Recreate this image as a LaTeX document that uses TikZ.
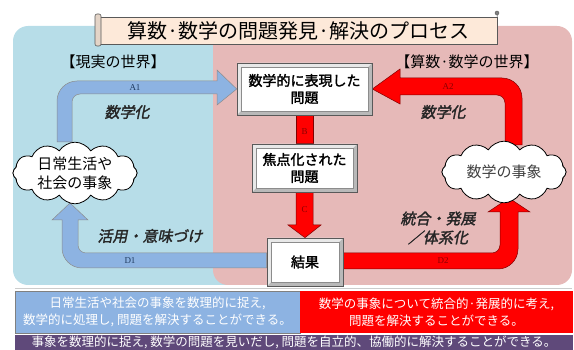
\documentclass[tikz,border=0pt]{standalone}
\usepackage{fontspec}
\setmainfont{Noto Sans CJK JP}
\newfontfamily\jp{Noto Sans CJK JP}
\newfontfamily\jpb{Noto Sans CJK JP}[FakeBold=2]
\newfontfamily\jpbi{Noto Sans CJK JP}[FakeBold=2,FakeSlant=0.2]
\newfontfamily\labfont{Liberation Serif}
\usetikzlibrary{shapes.symbols}
\definecolor{bgblue}{HTML}{B7DDE8}
\definecolor{bgpink}{HTML}{E6B9B8}
\definecolor{arrblue}{HTML}{8DB3E2}
\definecolor{arrred}{HTML}{FF0000}
\definecolor{peach}{HTML}{FDE9D9}
\definecolor{purp}{HTML}{5F497A}
\definecolor{labblue}{HTML}{1F3A5F}
\definecolor{labred}{HTML}{8B0000}
\tikzset{
  bevelbox/.style={draw=black!65, fill=gray!55, line width=0.6pt, inner sep=0pt, align=center,
    font=\jpb\fontsize{14}{17}\selectfont,
    path picture={
      \fill[gray!18] (path picture bounding box.north west) -- (path picture bounding box.north east)
        -- ([xshift=-4pt,yshift=-4pt]path picture bounding box.north east)
        -- ([xshift=4pt,yshift=-4pt]path picture bounding box.north west)
        -- ([xshift=4pt,yshift=4pt]path picture bounding box.south west)
        -- (path picture bounding box.south west) -- cycle;
      \fill[white, draw=black!45, line width=0.4pt] ([xshift=4pt,yshift=-4pt]path picture bounding box.north west)
        rectangle ([xshift=-4pt,yshift=4pt]path picture bounding box.south east);
    }},
  cloudnode/.style={cloud, draw=black, line width=0.8pt, fill=white, cloud puffs=12, cloud puff arc=115,
    aspect=2.2, inner sep=0pt, align=center, font=\jp\fontsize{15}{19}\selectfont},
  blockblue/.style={fill=arrblue, draw=black!45, line width=0.5pt},
  blockred/.style={fill=arrred, draw=red!50!black, line width=0.5pt},
  arrlab/.style={font=\labfont\fontsize{9}{10}\selectfont, inner sep=0pt},
  acttext/.style={font=\jpbi\fontsize{15}{19}\selectfont, inner sep=0pt, align=center, text=black!85},
  worldlab/.style={font=\jp\fontsize{15}{17}\selectfont, inner sep=0pt},
  bottombox/.style={inner sep=0pt, align=center, text=white, font=\jp\fontsize{12.5}{17}\selectfont}
}
\begin{document}
\begin{tikzpicture}[x=1pt,y=-1pt]
\useasboundingbox (0,0) rectangle (574,350);
% backgrounds
\fill[bgblue, rounded corners=15pt] (13,26) rectangle (240,285);
\fill[bgpink, rounded corners=15pt] (213,26) rectangle (572,285);
\draw[gray!40, line width=0.6pt] (15,288.5) -- (572,288.5);
% title scroll
\node[draw=black!65, fill=peach, line width=0.6pt, minimum width=397pt, minimum height=27pt, inner sep=0pt,
  font=\jp\fontsize{20}{22}\selectfont] (title) at (298.5,30.5) {算数·数学の問題発見·解決のプロセス};
\filldraw[fill=peach!80!gray, draw=black!65, line width=0.6pt, rounded corners=2pt] (95,14) rectangle (101,46);
\draw[black!65, line width=0.6pt] (497,13) -- (title.north east);
\filldraw[fill=gray, draw=black!65] (497,13) circle (2pt);
% world labels
\node[worldlab] (realw) at (113,62) {【現実の世界】};
\node[worldlab] (mathw) at (467,62) {【算数·数学の世界】};
% boxes
\node[bevelbox, minimum width=135pt, minimum height=52pt] (b1) at (304.5,89) {};
\node[bevelbox, minimum width=105pt, minimum height=48pt] (b2) at (304.5,168) {};
\node[bevelbox, minimum width=76pt, minimum height=48pt] (b3) at (305,262) {};
% clouds
\node[cloudnode, minimum width=124pt, minimum height=56pt] (cl) at (75,173) {};
\node[cloudnode, minimum width=124pt, minimum height=53pt] (cr) at (504,172) {};
% arrow A1
\path[blockblue] (57,142) -- (57,101) .. controls (57,90) and (66,81) .. (77,81) -- (217,81) -- (217,70)
  -- (b1.west) -- (217,105) -- (217,94) -- (80,94) .. controls (75.6,94) and (72,97.6) .. (72,102) -- (72,142) -- cycle;
% arrow A2
\path[blockred] (522,145) -- (522,98) .. controls (522,87) and (513,78) .. (502,78) -- (400,78) -- (400,69)
  -- (b1.east) -- (400,104) -- (400,95) -- (497,95) .. controls (501.4,95) and (505,98.6) .. (505,103) -- (505,145) -- cycle;
% arrow B
\path[blockred] (b1.south) ++(-8.5,0) rectangle ([xshift=8.5pt]b2.north);
% arrow C
\path[blockred] (296,192) -- (296,225) -- (288,225) -- (b3.north) -- (321,225) -- (313,225) -- (313,192) -- cycle;
% arrow D1
\path[blockblue] (b3.west |- 0,253) -- (86,253) .. controls (81.6,253) and (78,249.4) .. (78,245) -- (78,220) -- (88,220)
  -- (70,203) -- (52,220) -- (62,220) -- (62,248) .. controls (62,259) and (71,268) .. (82,268) -- (b3.west |- 0,268) -- cycle;
% arrow D2
\path[blockred] (b3.east |- 0,253) -- (492,253) .. controls (496.4,253) and (500,249.4) .. (500,245) -- (500,212) -- (488,212)
  -- (509,198) -- (530,212) -- (518,212) -- (518,249) .. controls (518,260) and (509,269) .. (498,269) -- (b3.east |- 0,269) -- cycle;
% redraw boxes and clouds on top
\node[bevelbox, minimum width=135pt, minimum height=52pt] (b1f) at (b1) {数学的に表現した\\問題};
\node[bevelbox, minimum width=105pt, minimum height=48pt] (b2f) at (b2) {焦点化された\\問題};
\node[bevelbox, minimum width=76pt, minimum height=48pt] (b3f) at (b3) {結果};
\node[cloudnode, minimum width=124pt, minimum height=56pt] (clf) at (cl) {日常生活や\\社会の事象};
\node[cloudnode, minimum width=124pt, minimum height=53pt, text=black!75] (crf) at (cr) {数学の事象};
% arrow labels
\node[arrlab, text=labblue] (la1) at (135,87.5) {A1};
\node[arrlab, text=labred] (la2) at (448,86.5) {A2};
\node[arrlab, text=labred] (lb) at (304.5,132) {B};
\node[arrlab, text=labred] (lc) at (304.5,210) {C};
\node[arrlab, text=labblue] (ld1) at (130,261) {D1};
\node[arrlab, text=labred] (ld2) at (443,261) {D2};
% action texts
\node[acttext] (t1) at (127,112) {数学化};
\node[acttext] (t2) at (443,112) {数学化};
\node[acttext] (t3) at (150,236) {活用・意味づけ};
\node[acttext] (t4) at (438,228) {統合・発展\\／体系化};
% bottom boxes
\node[bottombox, fill=arrblue, draw=gray, line width=0.6pt, minimum width=285pt, minimum height=42pt] (bb1) at (157.5,312)
  {日常生活や社会の事象を数理的に捉え,\\数学的に処理し, 問題を解決することができる。};
\node[bottombox, fill=arrred, minimum width=273pt, minimum height=42pt] (bb2) at (436.5,312)
  {数学の事象について統合的·発展的に考え,\\問題を解決することができる。};
\node[bottombox, fill=purp, minimum width=558pt, minimum height=15pt] (bb3) at (294,342.5)
  {事象を数理的に捉え, 数学の問題を見いだし, 問題を自立的、協働的に解決することができる。};
\end{tikzpicture}
\end{document}
